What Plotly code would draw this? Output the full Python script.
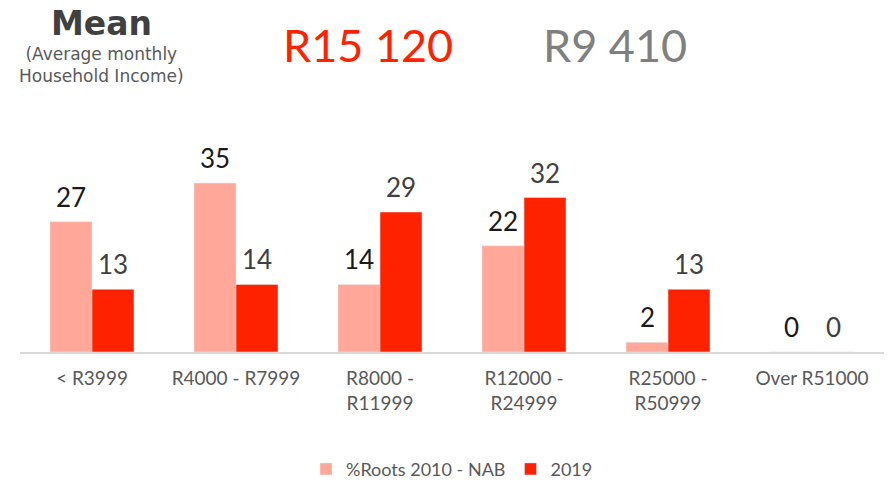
import plotly.graph_objects as go

categories = ["< R3999", "R4000 - R7999", "R8000 -<br>R11999", "R12000 -<br>R24999",
              "R25000 -<br>R50999", "Over R51000"]
roots_2010 = [27, 35, 14, 22, 2, 0]
nab_2019 = [13, 14, 29, 32, 13, 0]
series_names = ["%Roots 2010 - NAB", "2019"]
mean_values = ["R15 120", "R9 410"]

FONT = "Lato, 'Open Sans', sans-serif"
WIDE = "'DejaVu Sans', sans-serif"
W, H = 895, 491
L, R, T, B = 20, 11, 100, 139

fig = go.Figure()
fig.add_trace(go.Bar(x=categories, y=roots_2010, name=series_names[0],
                     marker_color="#FFA899"))
fig.add_trace(go.Bar(x=categories, y=nab_2019, name=series_names[1],
                     marker_color="#FF2200"))

annotations = []
# value labels above each bar, offset half a bar width from the category centre
for vals, shift, color in [(roots_2010, -21, "#1a1a1a"), (nab_2019, 21, "#404040")]:
    for c, v in zip(categories, vals):
        annotations.append(dict(
            x=c, y=v, xref="x", yref="y", text=str(v), showarrow=False,
            xanchor="center", yanchor="bottom", xshift=shift, yshift=7,
            font=dict(size=26, color=color, family=FONT)))

# header texts, positioned in figure pixels
def header(text, px, py, size, color, family):
    pw, ph = W - L - R, H - T - B
    return dict(text=text, xref="paper", yref="paper",
                x=(px - L) / pw, y=(H - B - py) / ph,
                xanchor="center", yanchor="middle", showarrow=False,
                font=dict(size=size, color=color, family=family))

annotations += [
    header("<b>Mean</b>", 101, 23, 33, "#404040", WIDE),
    header("(Average monthly<br>Household Income)", 101, 65, 17, "#595959", WIDE),
    header(mean_values[0], 368, 45, 45, "#FF2200", FONT),
    header(mean_values[1], 615, 45, 45, "#808080", FONT),
]

fig.update_layout(
    width=W, height=H,
    margin=dict(l=L, r=R, t=T, b=B, autoexpand=False),
    paper_bgcolor="white", plot_bgcolor="white",
    barmode="group", bargap=0.417, bargroupgap=0,
    font=dict(family=FONT, color="#595959"),
    showlegend=True,
    legend=dict(orientation="h", x=0.5, xanchor="center", y=-0.465, yanchor="middle",
                font=dict(size=18, color="#595959"), traceorder="normal"),
    xaxis=dict(showline=True, linecolor="#d9d9d9", linewidth=2, ticks="",
               ticklabelstandoff=8, automargin=False,
               tickfont=dict(size=19, color="#595959"), showgrid=False),
    yaxis=dict(range=[0, 52.2], visible=False, showgrid=False, zeroline=False),
    annotations=annotations,
)

fig.write_html("out.html")
